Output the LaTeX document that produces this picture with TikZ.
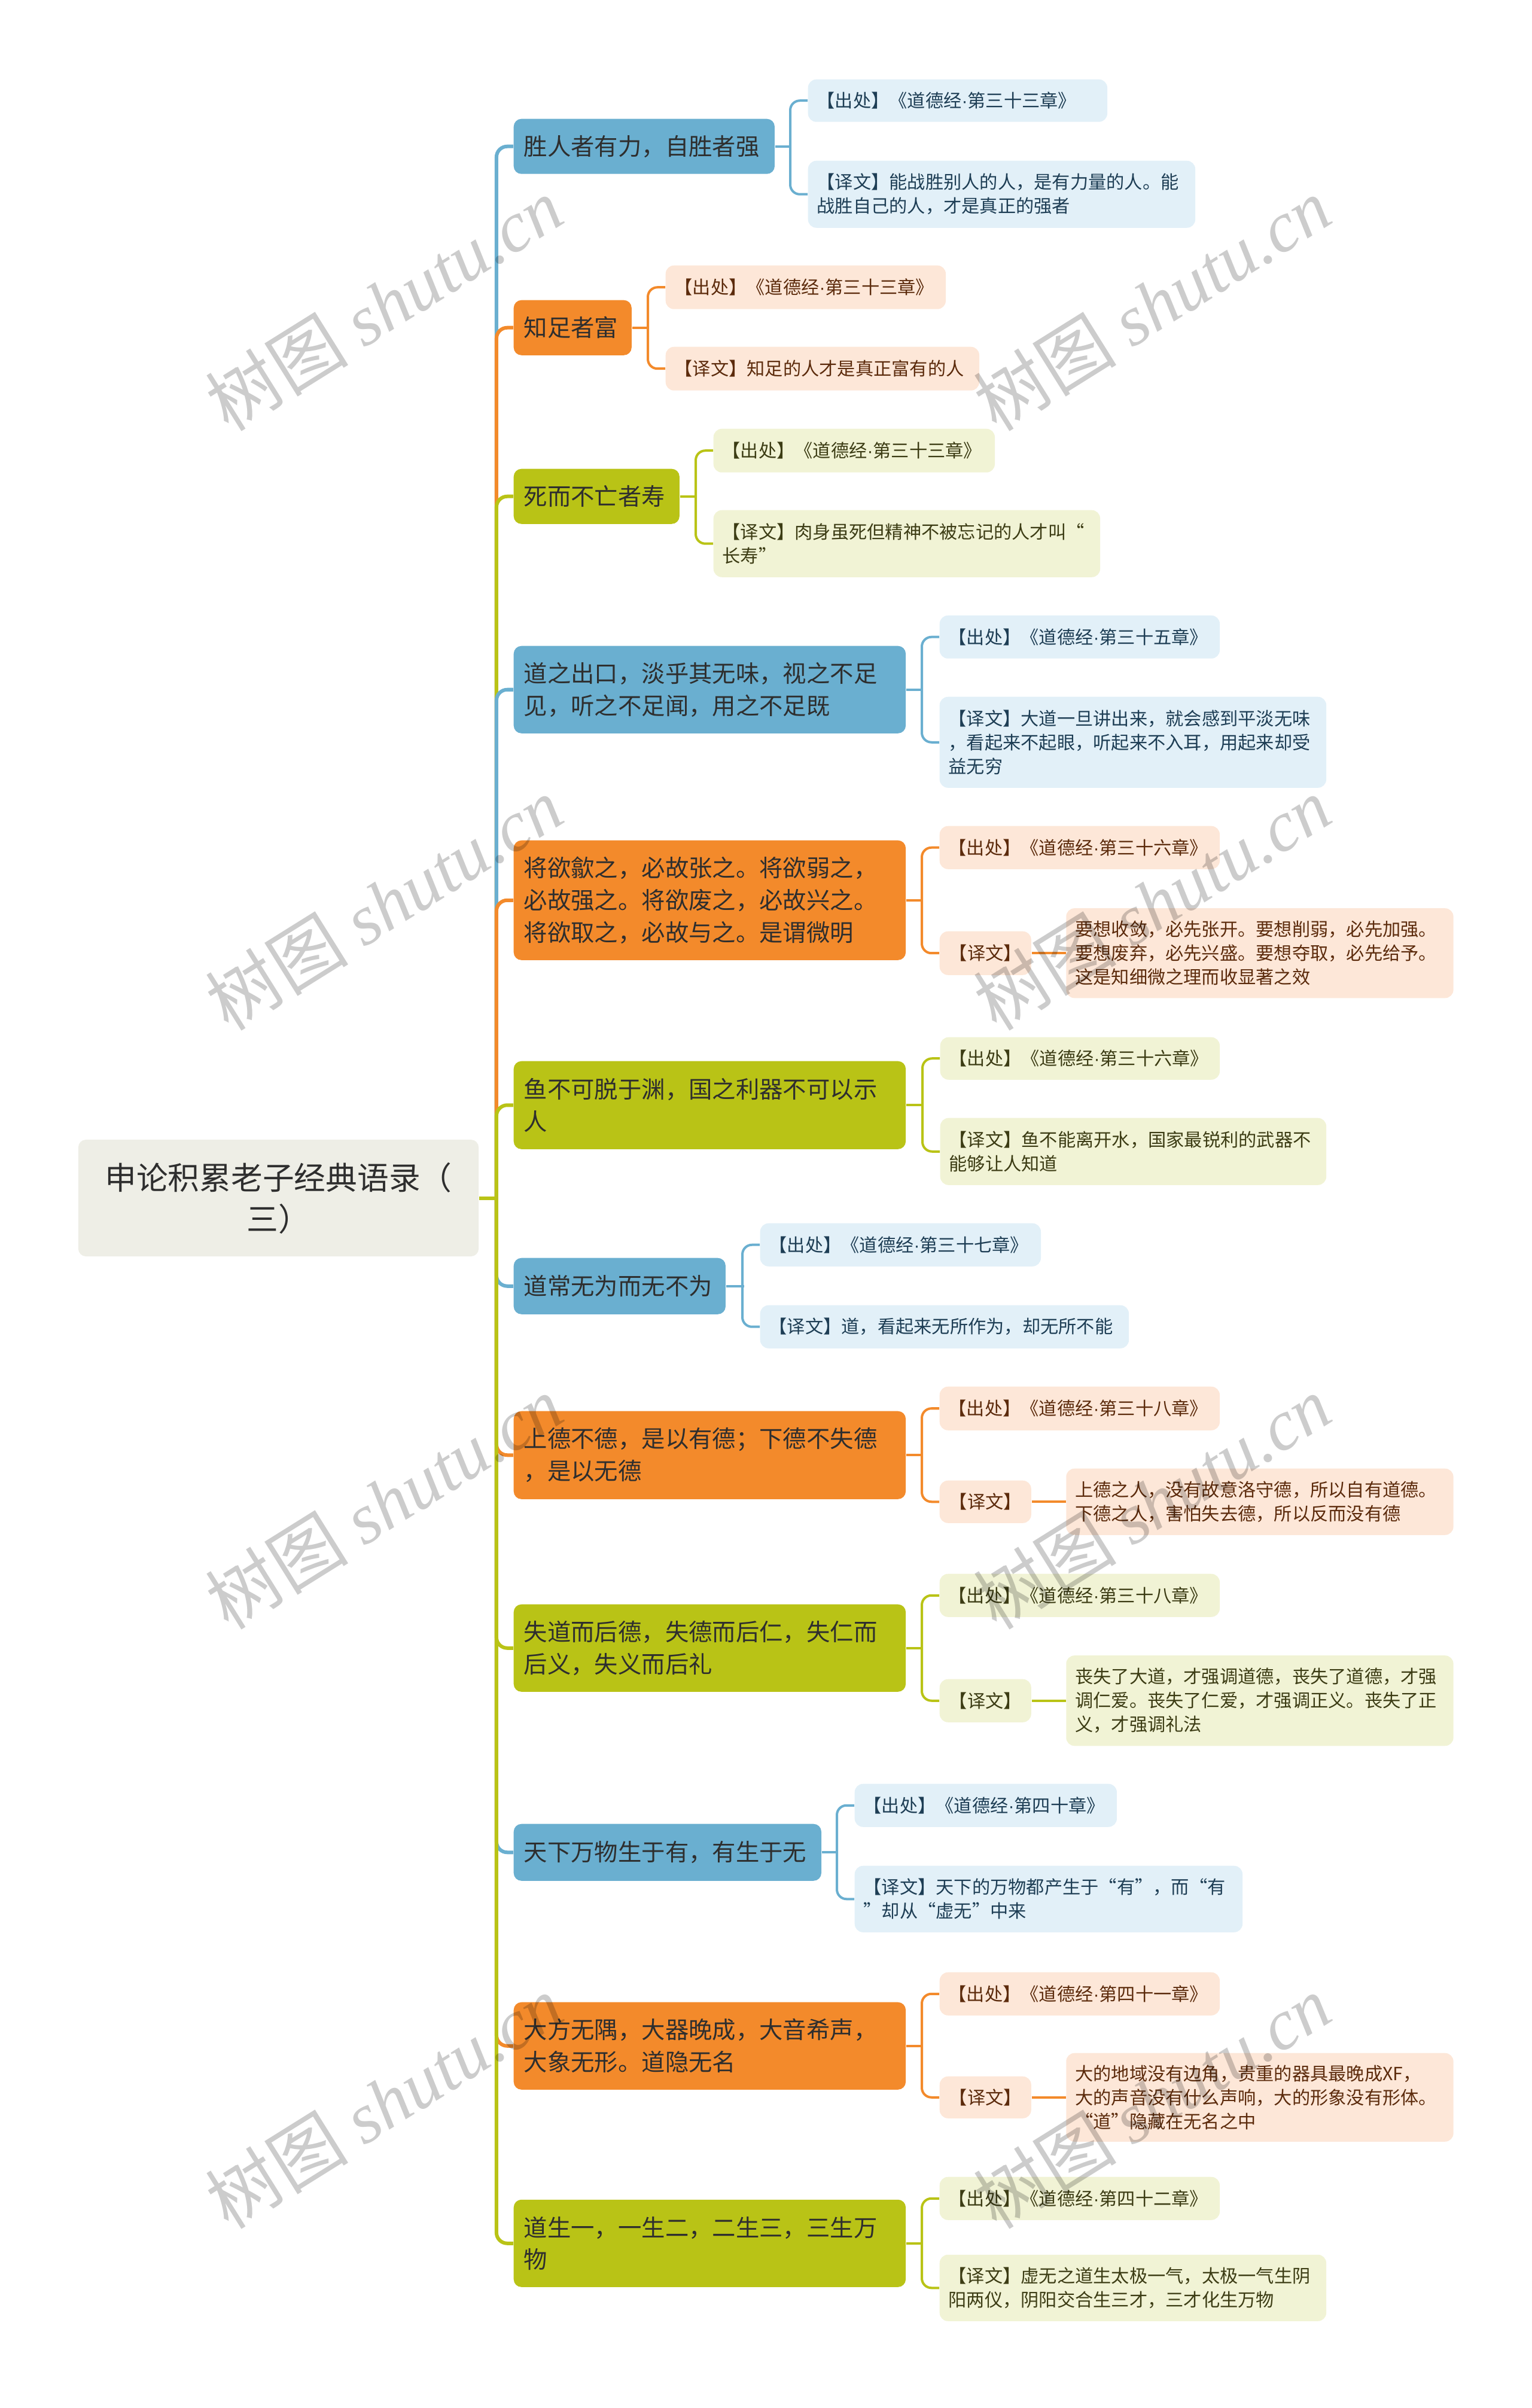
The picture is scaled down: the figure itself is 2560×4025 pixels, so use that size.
\documentclass[tikz,border=0pt]{standalone}
\usepackage{fontspec}
\setmainfont{Noto Sans CJK SC}
\newfontfamily\wmfont{Liberation Serif}
\newfontfamily\dotfont{Liberation Sans}
\usetikzlibrary{positioning}

\definecolor{blueM}{HTML}{6AAFD0}
\definecolor{orangeM}{HTML}{F38A2B}
\definecolor{oliveM}{HTML}{B9C316}
\definecolor{blueL}{HTML}{E2F0F8}
\definecolor{orangeL}{HTML}{FDE7D8}
\definecolor{oliveL}{HTML}{F1F3D5}
\definecolor{rootgray}{HTML}{EEEEE6}
\definecolor{txtdark}{HTML}{2E2E2E}
\definecolor{txtblue}{HTML}{1E3E55}
\definecolor{txtorange}{HTML}{5C2B0C}
\definecolor{txtolive}{HTML}{3C3C14}

\newcommand\rootfont{\fontsize{15pt}{19.6pt}\selectfont}
\newcommand\branchfont{\fontsize{11.2pt}{15.25pt}\selectfont}
\newcommand\leaffont{\fontsize{8.6pt}{11.4pt}\selectfont}
\newcommand\wmarkfont{\fontsize{34pt}{34pt}\selectfont}
\newcommand\jdot{{\dotfont ·}}

\begin{document}
\begin{tikzpicture}[
    x=0.01cm, y=-0.01cm,
    root/.style={fill=rootgray, rounded corners=1.3mm, align=center, font=\rootfont, text=txtdark, minimum width=6.69cm, minimum height=1.95cm},
    branch/.style={rounded corners=1.3mm, anchor=north west, inner xsep=1.7mm, inner ysep=0pt, align=left, font=\branchfont, text=txtdark},
    brB/.style={branch, fill=blueM},
    brO/.style={branch, fill=orangeM},
    brG/.style={branch, fill=oliveM},
    leaf/.style={rounded corners=1.4mm, anchor=north west, inner xsep=1.5mm, inner ysep=0pt, align=left, font=\leaffont},
    leafB/.style={leaf, fill=blueL, text=txtblue},
    leafO/.style={leaf, fill=orangeL, text=txtorange},
    leafG/.style={leaf, fill=oliveL, text=txtolive},
    tagO/.style={leafO, align=center, minimum width=1.53cm},
    tagG/.style={leafG, align=center, minimum width=1.53cm},
    trunk/.style={line width=0.6mm, rounded corners=1.8mm},
    twig/.style={line width=0.4mm, rounded corners=1.6mm},
    wmark/.style={rotate=32, text=black, text opacity=0.2, font=\wmarkfont}
]
\useasboundingbox (0,0) rectangle (2560,4025);

% root
\node[root] (root) at (465.5,2002.5) {申论积累老子经典语录（\\三）};
\path (root.east) ++(29,0) coordinate (hub);

% main branches
\node[brB, text width=4.02cm, minimum height=0.92cm] (b1) at (858,198) {胜人者有力，自胜者强};
\node[brO, text width=1.63cm, minimum height=0.92cm] (b2) at (858,501) {知足者富};
\node[brG, text width=2.43cm, minimum height=0.92cm] (b3) at (858,783) {死而不亡者寿};
\node[brB, text width=6.21cm, minimum height=1.46cm] (b4) at (858,1079) {道之出口，淡乎其无味，视之不足\\见，听之不足闻，用之不足既};
\node[brO, text width=6.21cm, minimum height=2.00cm] (b5) at (858,1404) {将欲歙之，必故张之。将欲弱之，\\必故强之。将欲废之，必故兴之。\\将欲取之，必故与之。是谓微明};
\node[brG, text width=6.21cm, minimum height=1.47cm] (b6) at (858,1773) {鱼不可脱于渊，国之利器不可以示\\人};
\node[brB, text width=3.20cm, minimum height=0.94cm] (b7) at (858,2102) {道常无为而无不为};
\node[brO, text width=6.21cm, minimum height=1.47cm] (b8) at (858,2358) {上德不德，是以有德；下德不失德\\，是以无德};
\node[brG, text width=6.21cm, minimum height=1.46cm] (b9) at (858,2681) {失道而后德，失德而后仁，失仁而\\后义，失义而后礼};
\node[brB, text width=4.80cm, minimum height=0.95cm] (b10) at (858,3048) {天下万物生于有，有生于无};
\node[brO, text width=6.21cm, minimum height=1.46cm] (b11) at (858,3346) {大方无隅，大器晚成，大音希声，\\大象无形。道隐无名};
\node[brG, text width=6.21cm, minimum height=1.46cm] (b12) at (858,3676) {道生一，一生二，二生三，三生万\\物};

% leaves
\node[leafB, text width=4.70cm, minimum height=0.71cm] (c1a) at (1350,132) {【出处】《道德经\jdot 第三十三章》};
\node[leafB, text width=6.17cm, minimum height=1.12cm] (c1b) at (1350,268) {【译文】能战胜别人的人，是有力量的人。能\\战胜自己的人，才是真正的强者};

\node[leafO, text width=4.38cm, minimum height=0.73cm] (c2a) at (1112,443) {【出处】《道德经\jdot 第三十三章》};
\node[leafO, text width=4.94cm, minimum height=0.73cm] (c2b) at (1112,579) {【译文】知足的人才是真正富有的人};

\node[leafG, text width=4.40cm, minimum height=0.73cm] (c3a) at (1192,716) {【出处】《道德经\jdot 第三十三章》};
\node[leafG, text width=6.16cm, minimum height=1.12cm] (c3b) at (1192,852) {【译文】肉身虽死但精神不被忘记的人才叫“\\长寿”};

\node[leafB, text width=4.38cm, minimum height=0.72cm] (c4a) at (1570,1028) {【出处】《道德经\jdot 第三十五章》};
\node[leafB, text width=6.16cm, minimum height=1.52cm] (c4b) at (1570,1164) {【译文】大道一旦讲出来，就会感到平淡无味\\，看起来不起眼，听起来不入耳，用起来却受\\益无穷};

\node[leafO, text width=4.38cm, minimum height=0.72cm] (c5a) at (1570,1380) {【出处】《道德经\jdot 第三十六章》};
\node[tagO, minimum height=0.73cm] (l5) at (1570,1556) {【译文】};
\node[leafO, right=0.57cm of l5, text width=6.17cm, minimum height=1.50cm] (d5) {要想收敛，必先张开。要想削弱，必先加强。\\要想废弃，必先兴盛。要想夺取，必先给予。\\这是知细微之理而收显著之效};

\node[leafG, text width=4.37cm, minimum height=0.71cm] (c6a) at (1571,1733) {【出处】《道德经\jdot 第三十六章》};
\node[leafG, text width=6.15cm, minimum height=1.12cm] (c6b) at (1571,1868) {【译文】鱼不能离开水，国家最锐利的武器不\\能够让人知道};

\node[leafB, text width=4.39cm, minimum height=0.72cm] (c7a) at (1270,2044) {【出处】《道德经\jdot 第三十七章》};
\node[leafB, text width=5.86cm, minimum height=0.72cm] (c7b) at (1270,2181) {【译文】道，看起来无所作为，却无所不能};

\node[leafO, text width=4.38cm, minimum height=0.73cm] (c8a) at (1570,2317) {【出处】《道德经\jdot 第三十八章》};
\node[tagO, minimum height=0.71cm] (l8) at (1570,2474) {【译文】};
\node[leafO, right=0.57cm of l8, text width=6.17cm, minimum height=1.11cm] (d8) {上德之人，没有故意洛守德，所以自有道德。\\下德之人，害怕失去德，所以反而没有德};

\node[leafG, text width=4.38cm, minimum height=0.72cm] (c9a) at (1570,2630) {【出处】《道德经\jdot 第三十八章》};
\node[tagG, minimum height=0.72cm] (l9) at (1570,2806) {【译文】};
\node[leafG, right=0.57cm of l9, text width=6.17cm, minimum height=1.51cm] (d9) {丧失了大道，才强调道德，丧失了道德，才强\\调仁爱。丧失了仁爱，才强调正义。丧失了正\\义，才强调礼法};

\node[leafB, text width=4.08cm, minimum height=0.72cm] (c10a) at (1428,2981) {【出处】《道德经\jdot 第四十章》};
\node[leafB, text width=6.18cm, minimum height=1.11cm] (c10b) at (1428,3118) {【译文】天下的万物都产生于“有”，而“有\\”却从“虚无”中来};

\node[leafO, text width=4.38cm, minimum height=0.72cm] (c11a) at (1570,3296) {【出处】《道德经\jdot 第四十一章》};
\node[tagO, minimum height=0.70cm] (l11) at (1570,3470) {【译文】};
\node[leafO, right=0.57cm of l11, text width=6.17cm, minimum height=1.48cm] (d11) {大的地域没有边角，贵重的器具最晚成XF，\\大的声音没有什么声响，大的形象没有形体。\\“道”隐藏在无名之中};

\node[leafG, text width=4.38cm, minimum height=0.72cm] (c12a) at (1570,3638) {【出处】《道德经\jdot 第四十二章》};
\node[leafG, text width=6.16cm, minimum height=1.11cm] (c12b) at (1570,3768) {【译文】虚无之道生太极一气，太极一气生阴\\阳两仪，阴阳交合生三才，三才化生万物};

% trunk lines from the root
\draw[trunk, blueM] (hub) |- (b1.west);
\draw[trunk, orangeM] (hub) |- (b2.west);
\draw[trunk, oliveM] (hub) |- (b3.west);
\draw[trunk, blueM] (hub) |- (b4.west);
\draw[trunk, orangeM] (hub) |- (b5.west);
\draw[trunk, oliveM] (hub) |- (b6.west);
\draw[trunk, blueM] (hub) |- (b7.west);
\draw[trunk, orangeM] (hub) |- (b8.west);
\draw[trunk, oliveM] (hub) |- (b9.west);
\draw[trunk, blueM] (hub) |- (b10.west);
\draw[trunk, orangeM] (hub) |- (b11.west);
\draw[trunk, oliveM] (hub) |- (b12.west);
\draw[trunk, oliveM] (root.east) -- (hub);

% branch to leaves
\draw[twig, blueM] (b1.east) -- ++(27,0);
\draw[twig, blueM] (c1a.west) -- ++(-29,0) |- (c1b.west);
\draw[twig, orangeM] (b2.east) -- ++(28,0);
\draw[twig, orangeM] (c2a.west) -- ++(-29,0) |- (c2b.west);
\draw[twig, oliveM] (b3.east) -- ++(28,0);
\draw[twig, oliveM] (c3a.west) -- ++(-29,0) |- (c3b.west);
\draw[twig, blueM] (b4.east) -- ++(28,0);
\draw[twig, blueM] (c4a.west) -- ++(-29,0) |- (c4b.west);
\draw[twig, orangeM] (b5.east) -- ++(28,0);
\draw[twig, orangeM] (c5a.west) -- ++(-29,0) |- (l5.west);
\draw[twig, orangeM] (l5.east) -- (d5.west);
\draw[twig, oliveM] (b6.east) -- ++(29,0);
\draw[twig, oliveM] (c6a.west) -- ++(-29,0) |- (c6b.west);
\draw[twig, blueM] (b7.east) -- ++(30,0);
\draw[twig, blueM] (c7a.west) -- ++(-29,0) |- (c7b.west);
\draw[twig, orangeM] (b8.east) -- ++(28,0);
\draw[twig, orangeM] (c8a.west) -- ++(-29,0) |- (l8.west);
\draw[twig, orangeM] (l8.east) -- (d8.west);
\draw[twig, oliveM] (b9.east) -- ++(28,0);
\draw[twig, oliveM] (c9a.west) -- ++(-29,0) |- (l9.west);
\draw[twig, oliveM] (l9.east) -- (d9.west);
\draw[twig, blueM] (b10.east) -- ++(27,0);
\draw[twig, blueM] (c10a.west) -- ++(-29,0) |- (c10b.west);
\draw[twig, orangeM] (b11.east) -- ++(28,0);
\draw[twig, orangeM] (c11a.west) -- ++(-29,0) |- (l11.west);
\draw[twig, orangeM] (l11.east) -- (d11.west);
\draw[twig, oliveM] (b12.east) -- ++(28,0);
\draw[twig, oliveM] (c12a.west) -- ++(-29,0) |- (c12b.west);

% watermark
\foreach \wx in {642,1926}
  \foreach \wy in {508,1510,2511,3513}
    \node[wmark] (wm\wx\wy) at (\wx,\wy) {树图 {\wmfont\itshape shutu.cn}};
\end{tikzpicture}
\end{document}
